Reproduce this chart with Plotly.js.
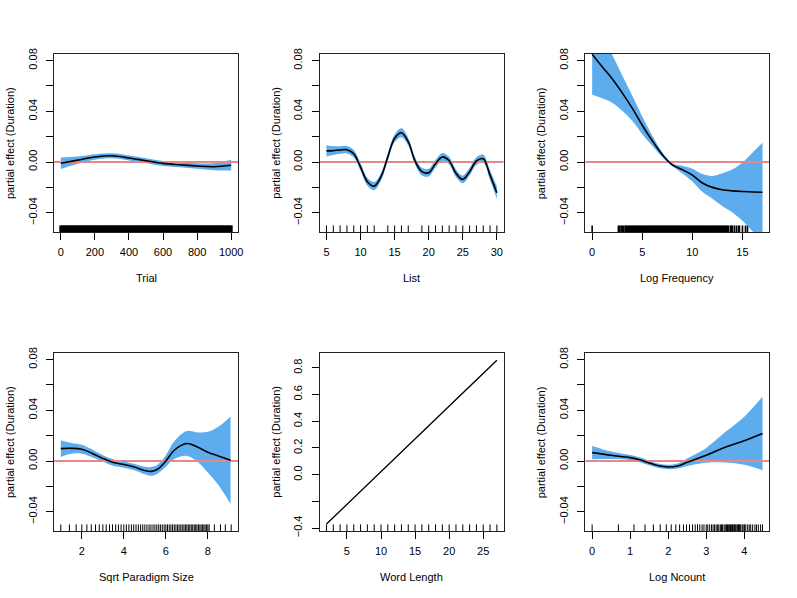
<!DOCTYPE html>
<html>
<head>
<meta charset="utf-8">
<script src="https://cdn.plot.ly/plotly-3.0.1.min.js"></script>
<style>
  body { margin: 0; background: white; }
  #plot { width: 797px; height: 598px; }
</style>
</head>
<body>
<div id="plot"></div>
<script>
// partial effects (fit and half width of the shaded band)

// Trial
let trialX   = [0, 100, 200, 300, 400, 500, 600, 700, 800, 900, 1000];
let trialFit = [-0.001, 0.0015, 0.004, 0.0049, 0.0032, 0.001, -0.0011, -0.0022, -0.0032, -0.0037, -0.0025];
let trialSe  = [0.0045, 0.0028, 0.0022, 0.002, 0.002, 0.002, 0.002, 0.002, 0.0022, 0.0028, 0.0042];
let trialRug = [0, 10, 20, 30, 40, 50, 60, 70, 80, 90, 100, 110, 120, 130, 140, 150, 160, 170, 180, 190,
  200, 210, 220, 230, 240, 250, 260, 270, 280, 290, 300, 310, 320, 330, 340, 350, 360, 370, 380, 390,
  400, 410, 420, 430, 440, 450, 460, 470, 480, 490, 500, 510, 520, 530, 540, 550, 560, 570, 580, 590,
  600, 610, 620, 630, 640, 650, 660, 670, 680, 690, 700, 710, 720, 730, 740, 750, 760, 770, 780, 790,
  800, 810, 820, 830, 840, 850, 860, 870, 880, 890, 900, 910, 920, 930, 940, 950, 960, 970, 980, 990, 1000];

// List
let listX   = [5, 6, 7, 8, 9, 10, 11, 12, 13, 14, 15, 16, 17, 18, 19, 20, 21, 22, 23, 24, 25, 26, 27, 28, 29, 30];
let listFit = [0.0088, 0.009, 0.0095, 0.0097, 0.0065, -0.004, -0.0155, -0.019, -0.0116, 0.004, 0.0187, 0.0231, 0.016,
  0.0008, -0.0076, -0.0084, -0.0013, 0.004, 0.001, -0.0089, -0.0137, -0.0076, 0.0008, 0.0026, -0.0103, -0.0242];
let listSe  = [0.0045, 0.0035, 0.003, 0.003, 0.003, 0.003, 0.003, 0.0032, 0.003, 0.003, 0.003, 0.0035, 0.003,
  0.003, 0.003, 0.003, 0.003, 0.003, 0.003, 0.003, 0.003, 0.003, 0.003, 0.0032, 0.0038, 0.005];
let listRug = [5, 6, 7, 8, 9, 10, 11, 12, 14, 15, 16, 17, 19, 20, 21, 22, 23, 24, 25, 26, 27, 28, 29, 30];

// Log Frequency
let freqX   = [0, 1, 2, 3, 4, 5, 6, 7, 8, 9, 10, 11, 12, 13, 14, 15, 16, 17];
let freqFit = [0.085, 0.0752, 0.0657, 0.0545, 0.0425, 0.029, 0.0168, 0.0058, -0.0022, -0.006, -0.0103, -0.0165, -0.020,
  -0.0219, -0.0228, -0.0233, -0.0236, -0.0239];
let freqSe  = [0.032, 0.025, 0.019, 0.014, 0.010, 0.007, 0.004, 0.002, 0.0012, 0.003, 0.005, 0.007, 0.009,
  0.013, 0.017, 0.023, 0.031, 0.039];
let freqRug = [0, 2.62, 2.75, 2.9, 3.02, 3.15, 3.3, 3.4, 3.5, 3.6, 3.7, 3.8, 3.9, 4.0, 4.1, 4.2, 4.3, 4.4, 4.5,
  4.6, 4.7, 4.8, 4.9, 5.0, 5.1, 5.2, 5.3, 5.4, 5.5, 5.6, 5.7, 5.8, 5.9, 6.0, 6.1, 6.2, 6.3, 6.4, 6.5, 6.6, 6.7,
  6.8, 6.9, 7.0, 7.1, 7.2, 7.3, 7.4, 7.5, 7.6, 7.7, 7.8, 7.9, 8.0, 8.1, 8.2, 8.3, 8.4, 8.5, 8.6, 8.7, 8.8, 8.9,
  9.0, 9.1, 9.2, 9.3, 9.4, 9.5, 9.6, 9.7, 9.8, 9.9, 10.0, 10.1, 10.2, 10.3, 10.4, 10.5, 10.6, 10.7, 10.8, 10.9,
  11.0, 11.1, 11.2, 11.3, 11.4, 11.5, 11.6, 11.7, 11.8, 11.9, 12.0, 12.1, 12.2, 12.3, 12.4, 12.5, 12.6, 12.7,
  12.8, 12.9, 13.0, 13.1, 13.2, 13.3, 13.4, 13.5, 13.6, 13.8, 13.9, 14.0, 14.2, 14.4, 14.6, 14.7, 15.0, 15.3, 15.5];

// Sqrt Paradigm Size
let paraX   = [1.0, 1.5, 2.0, 2.5, 3.0, 3.5, 4.0, 4.5, 5.0, 5.3, 5.6, 6.0, 6.4, 7.0, 7.5, 8.0, 8.5, 9.08];
let paraFit = [0.0098, 0.010, 0.0093, 0.006, 0.002, -0.0012, -0.0028, -0.0048, -0.0075, -0.0082, -0.0065, 0.0,
  0.0085, 0.0138, 0.011, 0.007, 0.004, 0.0006];
let paraSe  = [0.0066, 0.0042, 0.0035, 0.003, 0.0025, 0.0025, 0.0025, 0.0025, 0.003, 0.0035, 0.0035, 0.0045,
  0.007, 0.0098, 0.0115, 0.016, 0.023, 0.0345];
let paraRug = [1, 1.41, 1.73, 2, 2.24, 2.45, 2.65, 2.83, 3, 3.16, 3.32, 3.46, 3.61, 3.74, 3.87, 4, 4.12, 4.24,
  4.36, 4.47, 4.58, 4.69, 4.8, 4.9, 5, 5.1, 5.2, 5.29, 5.39, 5.48, 5.57, 5.66, 5.74, 5.83, 5.92, 6, 6.08, 6.16,
  6.24, 6.32, 6.4, 6.48, 6.56, 6.63, 6.71, 6.78, 6.86, 6.93, 7, 7.07, 7.14, 7.21, 7.28, 7.35, 7.42, 7.48, 7.55,
  7.62, 7.68, 7.75, 7.81, 7.87, 7.94, 8, 8.06, 8.31, 8.6, 8.83, 9.11];

// Word Length
let wordX   = [2, 27];
let wordFit = [-0.37, 0.856];
let wordSe  = [0.002, 0.004];
let wordRug = [2, 3, 4, 5, 6, 7, 8, 9, 10, 11, 12, 13, 14, 15, 16, 17, 18, 19, 20, 21, 22, 23, 24, 25, 26, 27];

// Log Ncount
let ncX   = [0, 0.5, 1.0, 1.25, 1.5, 1.75, 2.0, 2.25, 2.5, 2.75, 3.0, 3.5, 4.0, 4.48];
let ncFit = [0.0066, 0.0045, 0.0027, 0.001, -0.0015, -0.0038, -0.0047, -0.004, -0.001, 0.0018, 0.0045, 0.0108,
  0.016, 0.0217];
let ncSe  = [0.0053, 0.003, 0.002, 0.0019, 0.0018, 0.0017, 0.0017, 0.002, 0.003, 0.0042, 0.0058, 0.012, 0.019, 0.029];
let ncRug = [0, 0.69, 1.10, 1.39, 1.61, 1.79, 1.95, 2.08, 2.20, 2.30, 2.40, 2.48, 2.56, 2.64, 2.71, 2.77, 2.83,
  2.89, 2.94, 3.00, 3.04, 3.09, 3.14, 3.18, 3.22, 3.26, 3.30, 3.33, 3.37, 3.40, 3.43, 3.47, 3.50, 3.53, 3.56,
  3.58, 3.61, 3.64, 3.66, 3.69, 3.71, 3.74, 3.76, 3.78, 3.81, 3.83, 3.85, 3.87, 3.89, 3.91, 3.95, 3.99, 4.01,
  4.04, 4.09, 4.13, 4.17, 4.22, 4.28, 4.32, 4.37, 4.43, 4.48];

// axis ticks
let effTicks  = [-0.04, -0.02, 0, 0.02, 0.04, 0.06, 0.08];
let effLabels = ['\u22120.04', '', '0.00', '', '0.04', '', '0.08'];
let wordTicks  = [-0.4, -0.2, 0, 0.2, 0.4, 0.6, 0.8];
let wordLabels = ['\u22120.4', '', '0.0', '0.2', '0.4', '0.6', '0.8'];

let panels = [
  {x: trialX, fit: trialFit, se: trialSe, rug: trialRug, rugW: 3, name: 'Trial',
   xr: [-40, 1040], xt: [0, 200, 400, 600, 800, 1000], yr: [-0.0552, 0.0852], yt: effTicks, yl: effLabels, zero: true},
  {x: listX, fit: listFit, se: listSe, rug: listRug, rugW: 1, name: 'List',
   xr: [4, 31], xt: [5, 10, 15, 20, 25, 30], yr: [-0.0552, 0.0852], yt: effTicks, yl: effLabels, zero: true},
  {x: freqX, fit: freqFit, se: freqSe, rug: freqRug, rugW: 1.6, name: 'Log Frequency',
   xr: [-0.68, 17.68], xt: [0, 5, 10, 15], yr: [-0.0552, 0.0852], yt: effTicks, yl: effLabels, zero: true},
  {x: paraX, fit: paraFit, se: paraSe, rug: paraRug, rugW: 1, name: 'Sqrt Paradigm Size',
   xr: [0.676, 9.434], xt: [2, 4, 6, 8], yr: [-0.0552, 0.0852], yt: effTicks, yl: effLabels, zero: true},
  {x: wordX, fit: wordFit, se: wordSe, rug: wordRug, rugW: 1, name: 'Word Length',
   xr: [1, 28], xt: [5, 10, 15, 20, 25], yr: [-0.422, 0.911], yt: wordTicks, yl: wordLabels, zero: false, straight: true},
  {x: ncX, fit: ncFit, se: ncSe, rug: ncRug, rugW: 1, name: 'Log Ncount',
   xr: [-0.179, 4.659], xt: [0, 1, 2, 3, 4], yr: [-0.0552, 0.0852], yt: effTicks, yl: effLabels, zero: true}
];

let colDom = [[54 / 797, 238 / 797], [319.67 / 797, 503.67 / 797], [585.33 / 797, 769.33 / 797]];
let rowDom = [[1 - 232 / 598, 1 - 54 / 598], [1 - 531 / 598, 1 - 353 / 598]];

let font = {family: 'Liberation Sans, Arial, Helvetica, sans-serif', size: 11, color: 'black'};
let shade = '#5CACEE';

let data = [];
let layout = {
  width: 797, height: 598,
  margin: {l: 0, r: 0, t: 0, b: 0},
  paper_bgcolor: 'white', plot_bgcolor: 'white',
  showlegend: false,
  font: font,
  annotations: []
};

panels.forEach(function (p, i) {
  let n = i === 0 ? '' : String(i + 1);
  let xa = 'x' + n, ya = 'y' + n;
  let shape = p.straight ? 'linear' : 'spline';

  // rug along the bottom edge
  let rugTop = p.yr[0] + 0.037 * (p.yr[1] - p.yr[0]);
  let rx = [], ry = [];
  p.rug.forEach(function (v) { rx.push(v, v, null); ry.push(p.yr[0], rugTop, null); });
  data.push({x: rx, y: ry, xaxis: xa, yaxis: ya, type: 'scatter', mode: 'lines',
    line: {color: 'black', width: p.rugW}, hoverinfo: 'skip'});

  // shaded band
  let lower = p.fit.map(function (f, k) { return f - p.se[k]; });
  let upper = p.fit.map(function (f, k) { return f + p.se[k]; });
  data.push({x: p.x, y: lower, xaxis: xa, yaxis: ya, type: 'scatter', mode: 'lines',
    line: {width: 0, shape: shape, color: shade}, hoverinfo: 'skip'});
  data.push({x: p.x, y: upper, xaxis: xa, yaxis: ya, type: 'scatter', mode: 'lines',
    line: {width: 0, shape: shape, color: shade}, fill: 'tonexty', fillcolor: shade, hoverinfo: 'skip'});

  // zero reference line
  if (p.zero) {
    data.push({x: p.xr, y: [0, 0], xaxis: xa, yaxis: ya, type: 'scatter', mode: 'lines',
      line: {color: 'rgb(228,136,136)', width: 1.8}, hoverinfo: 'skip'});
  }

  // fitted smooth
  data.push({x: p.x, y: p.fit, xaxis: xa, yaxis: ya, type: 'scatter', mode: 'lines',
    line: {color: 'black', width: p.straight ? 1.3 : 1.6, shape: shape}});

  let col = i % 3, row = Math.floor(i / 3);
  layout['xaxis' + n] = {
    domain: colDom[col], anchor: ya, range: p.xr,
    tickvals: p.xt, ticks: 'outside', ticklen: 7, tickwidth: 1, tickcolor: 'black',
    ticklabelstandoff: 3, tickfont: font,
    showline: true, linecolor: '#222', linewidth: 1, mirror: true,
    showgrid: false, zeroline: false, fixedrange: true
  };
  layout['yaxis' + n] = {
    domain: rowDom[row], anchor: xa, range: p.yr,
    tickvals: p.yt, ticktext: p.yl, ticks: 'outside', ticklen: 7, tickwidth: 1, tickcolor: 'black',
    tickangle: -90, ticklabelstandoff: 5, tickfont: font,
    showline: true, linecolor: '#222', linewidth: 1, mirror: true,
    showgrid: false, zeroline: false, fixedrange: true
  };

  layout.annotations.push({
    text: p.name, xref: xa + ' domain', yref: ya + ' domain', x: 0.5, y: 0,
    yshift: -46, xanchor: 'center', yanchor: 'middle', showarrow: false, font: font
  });
  layout.annotations.push({
    text: 'partial effect (Duration)', xref: xa + ' domain', yref: ya + ' domain', x: 0, y: 0.5,
    xshift: -44, xanchor: 'center', yanchor: 'middle', textangle: -90, showarrow: false, font: font
  });
});

Plotly.newPlot('plot', data, layout, {displayModeBar: false, staticPlot: true});
</script>
</body>
</html>
